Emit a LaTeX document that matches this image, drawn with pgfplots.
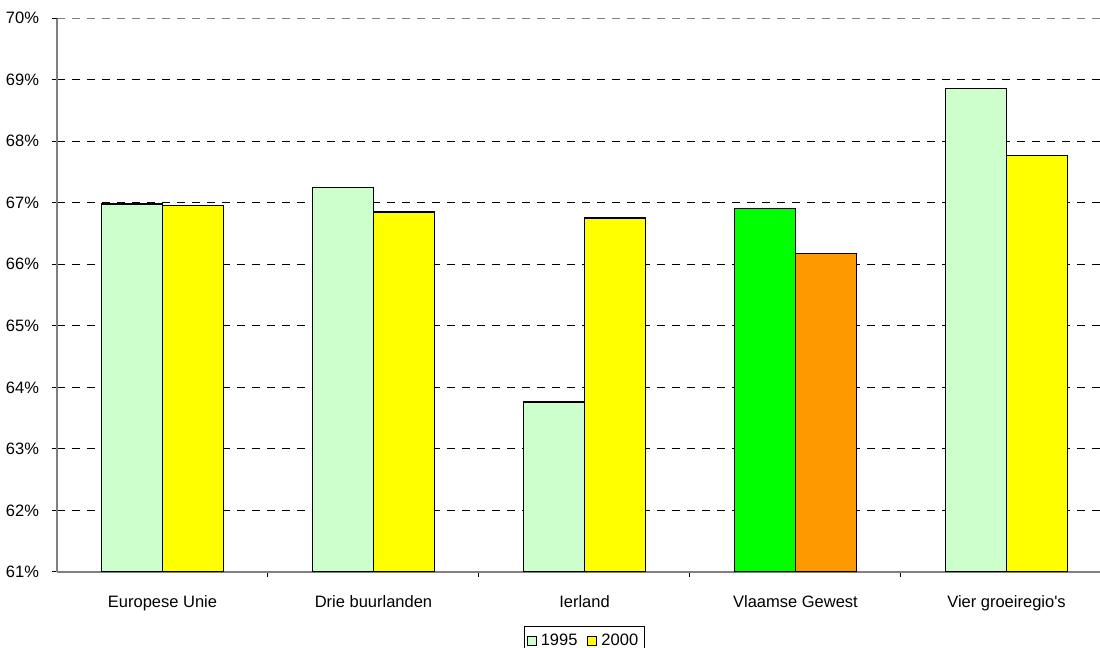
\documentclass[border=0pt]{standalone}
\usepackage{fontspec}
\setmainfont{Liberation Sans}
% same family without the TeX ligature mapping, for a straight apostrophe
\newfontfamily\rawsans{Liberation Sans}[Ligatures=ResetAll]
\usepackage{pgfplots}
\pgfplotsset{compat=1.18}

\definecolor{paleGreen}{HTML}{CCFFCC}
\definecolor{brightYellow}{HTML}{FFFF00}
\definecolor{vivGreen}{HTML}{00FF00}
\definecolor{amber}{HTML}{FF9900}
\definecolor{axisGray}{HTML}{808080}

\newcommand{\chartfont}{\fontsize{8.25}{9.9}\selectfont}

\pgfplotsset{
  sq legend/.style={
    legend image code/.code={\draw[##1, line width=0.5pt] (0pt,-2.25pt) rectangle (4.5pt,2.25pt);}
  }
}

\begin{document}
\begin{tikzpicture}
\useasboundingbox (0pt,0pt) rectangle (550pt,324pt);
\clip (0pt,0pt) rectangle (550pt,324pt);
\begin{axis}[
  at={(28.5pt,38pt)}, anchor=south west,
  scale only axis, width=527.5pt, height=277pt,
  xmin=-0.5, xmax=4.5, ymin=61, ymax=70,
  ybar, bar width=30.5pt,
  axis lines*=left,
  axis line style={axisGray, line width=0.6pt},
  tick align=outside,
  major tick length=2.5pt, minor tick length=2.5pt,
  tick style={black, line width=0.5pt},
  xtick={0,1,2,3,4},
  xticklabels={Europese Unie, Drie buurlanden, Ierland, Vlaamse Gewest, {\rawsans Vier groeiregio's}},
  major x tick style={draw=none},
  minor xtick={0.5,1.5,2.5,3.5},
  ytick={61,62,...,69},
  yticklabels={61\%,62\%,63\%,64\%,65\%,66\%,67\%,68\%,69\%},
  extra y ticks={70},
  extra y tick labels={70\%},
  extra y tick style={grid style={axisGray, dash pattern=on 4pt off 3.5pt, line width=0.5pt}},
  ymajorgrids,
  grid style={black, dash pattern=on 4pt off 3.5pt, line width=0.5pt},
  tick label style={font=\chartfont},
  xticklabel style={yshift=-5.5pt},
  yticklabel style={xshift=-3pt},
  legend columns=2,
  legend style={at={(0.5,0)}, anchor=north, yshift=-27pt,
    draw=black, line width=0.5pt, font=\chartfont,
    inner xsep=1pt, inner ysep=1.5pt,
    /tikz/every even column/.append style={column sep=3pt}},
]
% 1995 (regions other than Vlaanderen)
\addplot[fill=paleGreen, draw=black, line width=0.65pt, bar shift=-15.25pt, sq legend]
  coordinates {(0,66.98) (1,67.25) (2,63.76) (4,68.85)};
% 2000 (regions other than Vlaanderen)
\addplot[fill=brightYellow, draw=black, line width=0.65pt, bar shift=15.25pt, sq legend]
  coordinates {(0,66.95) (1,66.85) (2,66.75) (4,67.77)};
% Vlaamse Gewest highlighted
\addplot[fill=vivGreen, draw=black, line width=0.65pt, bar shift=-15.25pt, forget plot]
  coordinates {(3,66.90)};
\addplot[fill=amber, draw=black, line width=0.65pt, bar shift=15.25pt, forget plot]
  coordinates {(3,66.17)};
\legend{1995, 2000}
\end{axis}
\end{tikzpicture}
\end{document}
